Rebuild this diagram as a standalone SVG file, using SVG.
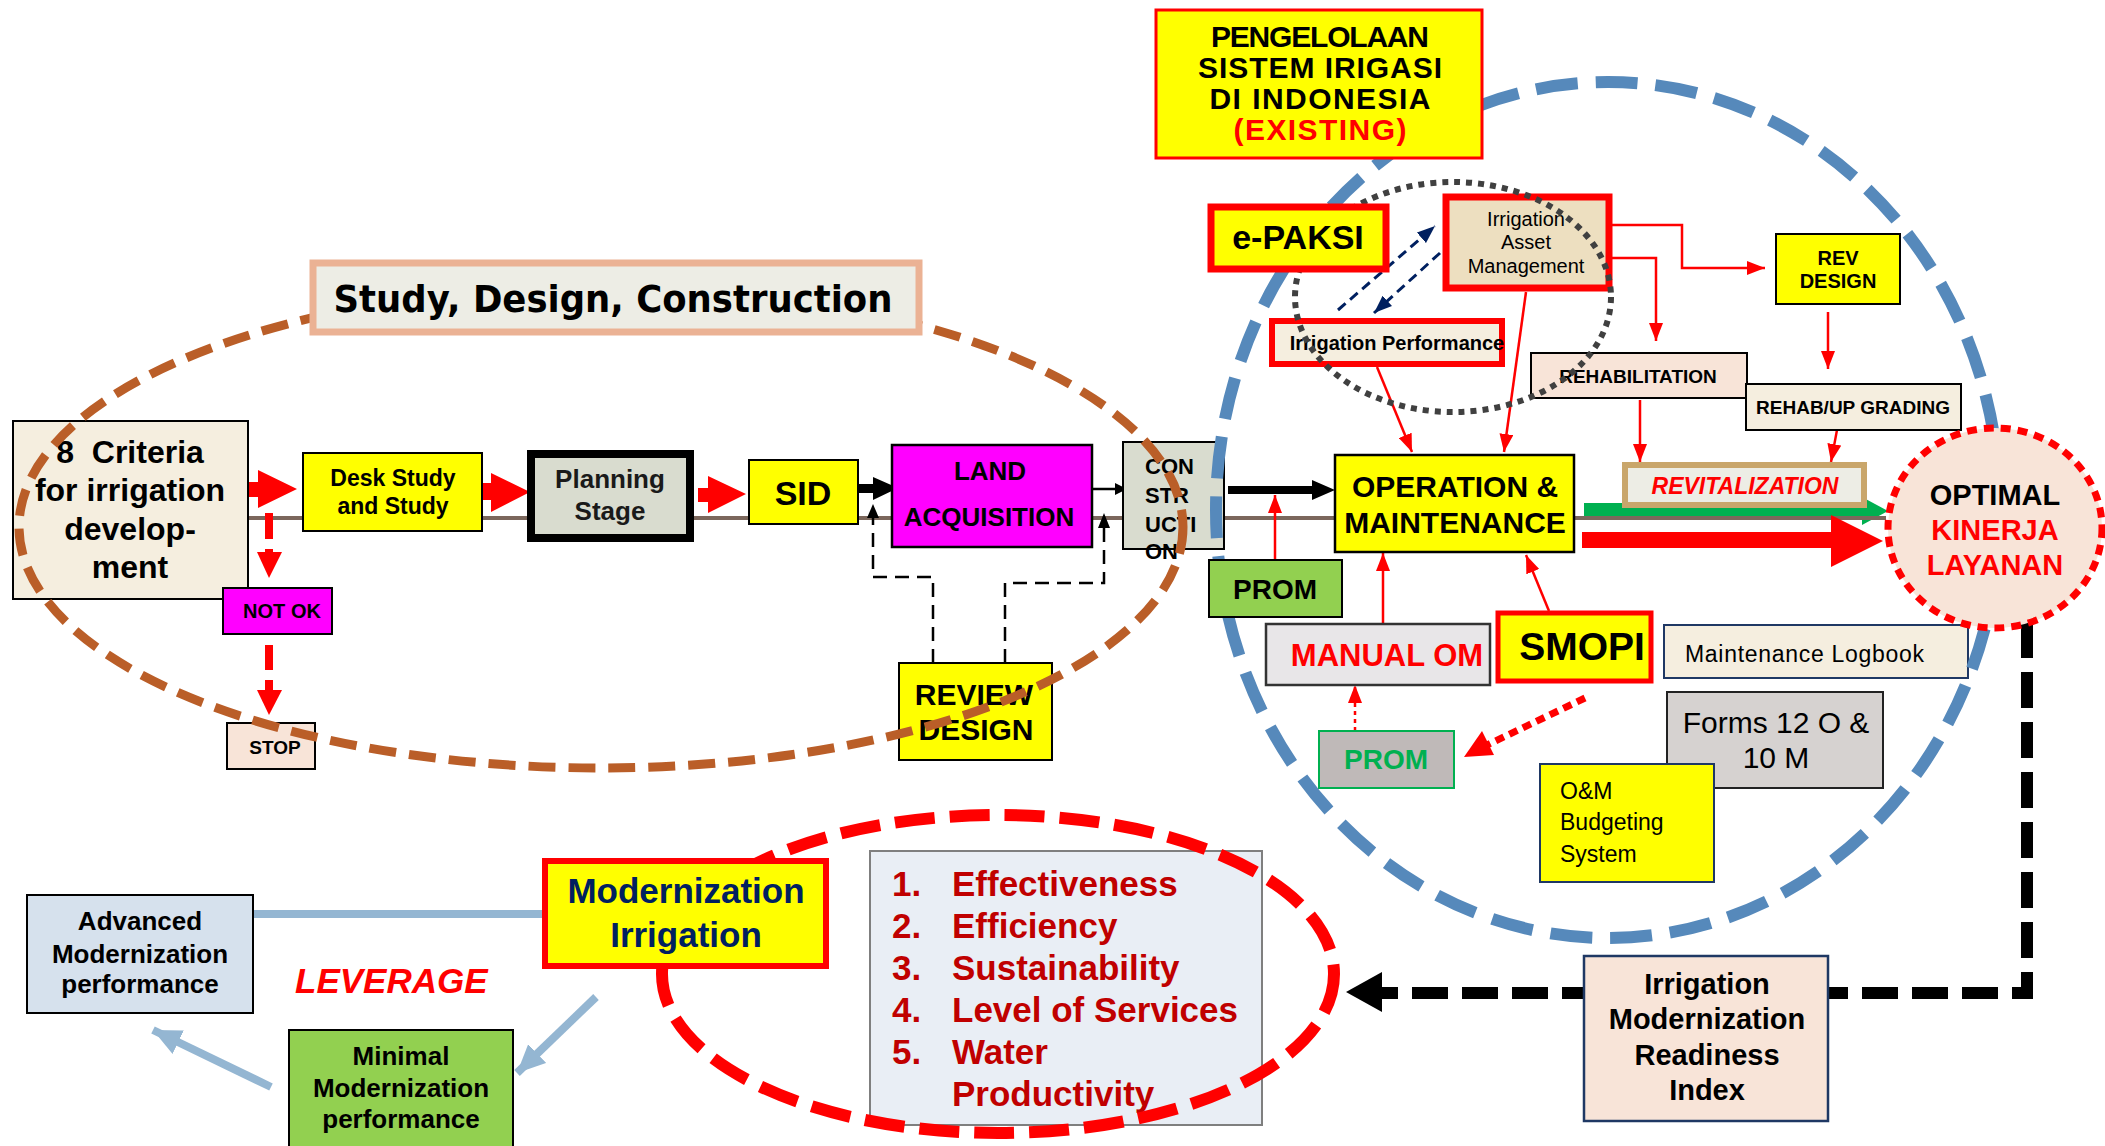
<svg xmlns="http://www.w3.org/2000/svg" width="2105" height="1146" viewBox="0 0 2105 1146">
<style>
text{font-family:"Liberation Sans",Arial,sans-serif}
.b{font-weight:bold}
.c{text-anchor:middle}
.it{font-style:italic}
.bx{stroke:#000;stroke-width:2}
.ya{fill:#FFFF00}
.rl{fill:none;stroke:#FF0000;stroke-width:2.5;marker-end:url(#ar)}
</style>
<defs>
<marker id="ar" viewBox="0 0 18 14" refX="18" refY="7" markerWidth="18" markerHeight="14" markerUnits="userSpaceOnUse" orient="auto" preserveAspectRatio="none"><path d="M0,0 L18,7 L0,14 z" fill="#FF0000"/></marker>
<marker id="an" viewBox="0 0 18 14" refX="18" refY="7" markerWidth="18" markerHeight="14" markerUnits="userSpaceOnUse" orient="auto" preserveAspectRatio="none"><path d="M0,0 L18,7 L0,14 z" fill="#002060"/></marker>
<marker id="ab" viewBox="0 0 12 12" refX="12" refY="6" markerWidth="12" markerHeight="12" markerUnits="userSpaceOnUse" orient="auto" preserveAspectRatio="none"><path d="M0,0 L12,6 L0,12 z" fill="#000"/></marker>
<marker id="alb" viewBox="0 0 28 26" refX="28" refY="13" markerWidth="28" markerHeight="26" markerUnits="userSpaceOnUse" orient="auto" preserveAspectRatio="none"><path d="M0,0 L28,13 L0,26 z" fill="#94B6D2"/></marker>
</defs>

<g id="connectors">
  <polygon points="1584,503 1862,503 1862,497 1888,511 1862,525 1862,519 1584,519" fill="#00B050"/>
  <line x1="248" y1="518" x2="1886" y2="518" stroke="#7B675C" stroke-width="4"/>
  <polygon points="1582,532 1831,532 1831,515 1883,541 1831,567 1831,548 1582,548" fill="#FF0000"/>
  <polygon points="249,482 258,482 258,470 297,489 258,508 258,497 249,497" fill="#FF0000"/>
  <polygon points="482,483 491,483 491,473 530,492 491,512 491,500 482,500" fill="#FF0000"/>
  <polygon points="698,488 708,488 708,476 746,494 708,513 708,502 698,502" fill="#FF0000"/>
  <line x1="269" y1="513" x2="269" y2="556" stroke="#FF0000" stroke-width="8" stroke-dasharray="26 10"/>
  <polygon points="257,552 282,552 269,578" fill="#FF0000"/>
  <line x1="269" y1="645" x2="269" y2="694" stroke="#FF0000" stroke-width="8" stroke-dasharray="25 10"/>
  <polygon points="257,690 282,690 269,715" fill="#FF0000"/>
  <polygon points="859,484 873,484 873,477 898,488 873,500 873,493 859,493" fill="#000"/>
  <line x1="1087" y1="489" x2="1127" y2="489" stroke="#000" stroke-width="2.5" marker-end="url(#ab)"/>
  <polygon points="1228,486 1312,486 1312,480 1335,490 1312,500 1312,494 1228,494" fill="#000"/>
  <path d="M933,663 V577 H873 V518" fill="none" stroke="#000" stroke-width="2.5" stroke-dasharray="14 8"/>
  <polygon points="867,518 879,518 873,504" fill="#000"/>
  <path d="M1005,663 V583 H1104 V528" fill="none" stroke="#000" stroke-width="2.5" stroke-dasharray="14 8"/>
  <polygon points="1098,528 1110,528 1104,513" fill="#000"/>
  <line x1="1338" y1="310" x2="1435" y2="226" stroke="#002060" stroke-width="3" stroke-dasharray="10 6" marker-end="url(#an)"/>
  <line x1="1440" y1="253" x2="1374" y2="313" stroke="#002060" stroke-width="3" stroke-dasharray="10 6" marker-end="url(#an)"/>
  <path class="rl" d="M1601,225 H1682 V268 H1765"/>
  <path class="rl" d="M1601,258 H1656 V341"/>
  <path class="rl" d="M1526,292 L1504,452"/>
  <path class="rl" d="M1377,367 L1412,452"/>
  <path class="rl" d="M1640,400 V462"/>
  <path class="rl" d="M1828,312 V369"/>
  <path class="rl" d="M1837,430 L1831,462"/>
  <path class="rl" d="M1275,560 V495"/>
  <path class="rl" d="M1383,624 V553"/>
  <path class="rl" d="M1549,611 L1526,555"/>
  <path class="rl" d="M1355,731 V685" stroke-dasharray="4 4"/>
  <line x1="1585" y1="698" x2="1485" y2="746" stroke="#FF0000" stroke-width="7" stroke-dasharray="9 6"/>
  <polygon points="1464,757 1482,731 1494,755" fill="#FF0000"/>
  <path d="M2027,622 V993 H1382" fill="none" stroke="#000" stroke-width="12" stroke-dasharray="36 14"/>
  <polygon points="1382,972 1382,1012 1346,992" fill="#000"/>
  <line x1="253" y1="914" x2="545" y2="914" stroke="#94B6D2" stroke-width="8"/>
  <line x1="596" y1="997" x2="517" y2="1073" stroke="#94B6D2" stroke-width="8" marker-end="url(#alb)"/>
  <line x1="271" y1="1087" x2="153" y2="1030" stroke="#94B6D2" stroke-width="8" marker-end="url(#alb)"/>
</g>

<g id="criteria">
  <rect x="13" y="421" width="235" height="178" fill="#F5EEDF" class="bx"/>
  <text class="b c" font-size="32" x="130" y="463" xml:space="preserve">8  Criteria</text>
  <text class="b c" font-size="32" x="130" y="501">for irrigation</text>
  <text class="b c" font-size="32" x="130" y="540">develop-</text>
  <text class="b c" font-size="32" x="130" y="578">ment</text>
</g>
<g id="desk-study">
  <rect x="303" y="453" width="179" height="78" class="bx ya"/>
  <text class="b c" font-size="23" x="393" y="486">Desk Study</text>
  <text class="b c" font-size="23" x="393" y="514">and Study</text>
</g>
<g id="planning">
  <rect x="531" y="454" width="159" height="84" fill="#D9DCCF" stroke="#000" stroke-width="8"/>
  <text class="b c" font-size="26" x="610" y="488" fill="#1a1a1a">Planning</text>
  <text class="b c" font-size="26" x="610" y="520" fill="#1a1a1a">Stage</text>
</g>
<g id="sid">
  <rect x="749" y="460" width="109" height="64" class="bx ya"/>
  <text class="b c" font-size="34" x="803" y="505">SID</text>
</g>
<g id="land">
  <rect x="892" y="445" width="200" height="102" fill="#FF00FF" stroke="#000" stroke-width="2.5"/>
  <text class="b c" font-size="26" x="990" y="480">LAND</text>
  <text class="b c" font-size="26" x="989" y="526">ACQUISITION</text>
</g>
<g id="construction">
  <rect x="1123" y="442" width="101" height="107" fill="#D9DCCF" class="bx"/>
  <text class="b" font-size="22" x="1145" y="474">CON</text>
  <text class="b" font-size="22" x="1145" y="503">STR</text>
  <text class="b" font-size="22" x="1145" y="532">UCTI</text>
  <text class="b" font-size="22" x="1145" y="559">ON</text>
</g>
<g id="review-design">
  <rect x="899" y="663" width="153" height="97" class="bx ya"/>
  <text class="b c" font-size="30" x="974" y="705">REVIEW</text>
  <text class="b c" font-size="30" x="976" y="740">DESIGN</text>
</g>
<g id="not-ok">
  <rect x="223" y="588" width="109" height="46" fill="#FF00FF" class="bx"/>
  <text class="b c" font-size="20" x="282" y="618">NOT OK</text>
</g>
<g id="stop">
  <rect x="227" y="723" width="88" height="46" fill="#F8E4D8" class="bx"/>
  <text class="b c" font-size="19" x="275" y="754">STOP</text>
</g>

<g id="asset-mgmt">
  <rect x="1446" y="197" width="163" height="91" fill="#EDDFC0" stroke="#FF0000" stroke-width="7"/>
  <text class="c" font-size="20" x="1526" y="226">Irrigation</text>
  <text class="c" font-size="20" x="1526" y="249">Asset</text>
  <text class="c" font-size="20" x="1526" y="273">Management</text>
</g>
<g id="irr-performance">
  <rect x="1272" y="321" width="230" height="43" fill="#F5EEDF" stroke="#FF0000" stroke-width="6"/>
  <text class="b c" font-size="20" x="1397" y="350">Irrigation Performance</text>
</g>
<g id="rev-design">
  <rect x="1776" y="234" width="124" height="70" class="bx ya"/>
  <text class="b c" font-size="20" x="1838" y="265">REV</text>
  <text class="b c" font-size="20" x="1838" y="288">DESIGN</text>
</g>
<g id="rehabilitation">
  <rect x="1531" y="353" width="216" height="45" fill="#F8E4D8" class="bx"/>
  <text class="b c" font-size="19" x="1638" y="383">REHABILITATION</text>
</g>
<g id="rehab-upgrading">
  <rect x="1746" y="384" width="215" height="46" fill="#F5EEDF" class="bx"/>
  <text class="b c" font-size="19" x="1853" y="414">REHAB/UP GRADING</text>
</g>
<g id="om">
  <rect x="1335" y="455" width="239" height="97" class="ya" stroke="#000" stroke-width="2.5"/>
  <text class="b c" font-size="30" x="1455" y="497">OPERATION &amp;</text>
  <text class="b c" font-size="30" x="1455" y="533">MAINTENANCE</text>
</g>
<g id="revitalization">
  <rect x="1625" y="465" width="239" height="40" fill="#EDEDE5" stroke="#C9A66B" stroke-width="6"/>
  <text class="b c it" font-size="23" x="1745" y="494" fill="#FF0000">REVITALIZATION</text>
</g>
<g id="manual-om">
  <rect x="1266" y="624" width="224" height="61" fill="#E8E6E8" stroke="#333" stroke-width="2.5"/>
  <text class="b c" font-size="31" x="1387" y="666" fill="#FF0000">MANUAL OM</text>
</g>
<g id="smopi">
  <rect x="1498" y="613" width="153" height="68" class="ya" stroke="#FF0000" stroke-width="5"/>
  <text class="b c" font-size="39" x="1582" y="660">SMOPI</text>
</g>
<g id="logbook">
  <rect x="1664" y="625" width="304" height="53" fill="#F5EEDF" stroke="#1F3864" stroke-width="2"/>
  <text font-size="23" x="1685" y="662" textLength="239">Maintenance Logbook</text>
</g>
<g id="forms">
  <rect x="1667" y="692" width="216" height="96" fill="#D6D2D0" stroke="#222" stroke-width="2"/>
  <text class="c" font-size="30" x="1776" y="733">Forms 12 O &amp;</text>
  <text class="c" font-size="30" x="1776" y="768">10 M</text>
</g>
<g id="budgeting">
  <rect x="1540" y="764" width="174" height="118" class="ya" stroke="#1F3864" stroke-width="2"/>
  <text font-size="23" x="1560" y="799">O&amp;M</text>
  <text font-size="23" x="1560" y="830">Budgeting</text>
  <text font-size="23" x="1560" y="862">System</text>
</g>
<g id="prom-gray">
  <rect x="1319" y="731" width="135" height="57" fill="#BFB9B8" stroke="#00B050" stroke-width="2"/>
  <text class="b c" font-size="28" x="1386" y="769" fill="#00B050">PROM</text>
</g>
<g id="imri">
  <rect x="1584" y="956" width="244" height="165" fill="#F8E4D8" stroke="#1F3864" stroke-width="2.5"/>
  <text class="b c" font-size="29" x="1707" y="994">Irrigation</text>
  <text class="b c" font-size="29" x="1707" y="1029">Modernization</text>
  <text class="b c" font-size="29" x="1707" y="1065">Readiness</text>
  <text class="b c" font-size="29" x="1707" y="1100">Index</text>
</g>
<g id="goals">
  <rect x="870" y="851" width="392" height="274" fill="#E9EEF5" stroke="#7F7F7F" stroke-width="2"/>
  <g class="b" font-size="35" fill="#C00000">
    <text x="892" y="896">1.</text><text x="952" y="896">Effectiveness</text>
    <text x="892" y="938">2.</text><text x="952" y="938">Efficiency</text>
    <text x="892" y="980">3.</text><text x="952" y="980">Sustainability</text>
    <text x="892" y="1022">4.</text><text x="952" y="1022">Level of Services</text>
    <text x="892" y="1064">5.</text><text x="952" y="1064">Water</text>
    <text x="952" y="1106">Productivity</text>
  </g>
</g>
<g id="advanced">
  <rect x="27" y="895" width="226" height="118" fill="#D6E1ED" class="bx"/>
  <text class="b c" font-size="26" x="140" y="930">Advanced</text>
  <text class="b c" font-size="26" x="140" y="963">Modernization</text>
  <text class="b c" font-size="26" x="140" y="993">performance</text>
</g>
<g id="minimal">
  <rect x="289" y="1030" width="224" height="125" fill="#92D050" class="bx"/>
  <text class="b c" font-size="26" x="401" y="1065">Minimal</text>
  <text class="b c" font-size="26" x="401" y="1097">Modernization</text>
  <text class="b c" font-size="26" x="401" y="1128">performance</text>
</g>
<text id="leverage" class="b it" font-size="35" x="295" y="993" fill="#FF0000">LEVERAGE</text>

<g id="outlines">
  <ellipse cx="601" cy="527" rx="582" ry="241" fill="none" stroke="#BA5E28" stroke-width="9" stroke-dasharray="27 13"/>
  <ellipse cx="1608" cy="510" rx="392" ry="428" fill="none" stroke="#5689BB" stroke-width="12" stroke-dasharray="42 18"/>
  <ellipse cx="1453" cy="297" rx="158" ry="115" fill="none" stroke="#404040" stroke-width="6" stroke-dasharray="6 6"/>
  <ellipse cx="998" cy="974" rx="336" ry="159" fill="none" stroke="#FF0000" stroke-width="12" stroke-dasharray="40 15"/>
</g>

<g id="study-title">
  <rect x="313" y="263" width="606" height="69" fill="#EDEDE5" stroke="#EBB294" stroke-width="7"/>
  <text x="613" y="312" font-size="38" textLength="559" lengthAdjust="spacingAndGlyphs" class="c" style="font-family:'DejaVu Sans',sans-serif;font-weight:bold">Study, Design, Construction</text>
</g>
<g id="pengelolaan">
  <rect x="1156" y="10" width="326" height="148" class="ya" stroke="#FF0000" stroke-width="3"/>
  <text class="b c" font-size="30" x="1320" y="47" textLength="218">PENGELOLAAN</text>
  <text class="b c" font-size="30" x="1320" y="78" textLength="244">SISTEM IRIGASI</text>
  <text class="b c" font-size="30" x="1320" y="109" textLength="221">DI INDONESIA</text>
  <text class="b c" font-size="30" x="1320" y="140" textLength="173" fill="#FF0000">(EXISTING)</text>
</g>
<g id="epaksi">
  <rect x="1211" y="207" width="175" height="62" class="ya" stroke="#FF0000" stroke-width="7"/>
  <text class="b c" font-size="34" x="1298" y="249">e-PAKSI</text>
</g>
<g id="prom-green">
  <rect x="1209" y="560" width="133" height="57" fill="#92D050" class="bx"/>
  <text class="b c" font-size="28" x="1275" y="599">PROM</text>
</g>
<g id="optimal">
  <ellipse cx="1995" cy="528" rx="107" ry="100" fill="#F8E4D8" stroke="#FF0000" stroke-width="7" stroke-dasharray="10 7"/>
  <text class="b c" font-size="29" x="1995" y="505">OPTIMAL</text>
  <text class="b c" font-size="29" x="1995" y="540" fill="#FF0000">KINERJA</text>
  <text class="b c" font-size="29" x="1995" y="575" fill="#FF0000">LAYANAN</text>
</g>
<g id="modernization">
  <rect x="545" y="861" width="281" height="105" class="ya" stroke="#FF0000" stroke-width="6"/>
  <text class="b c" font-size="35" x="686" y="903" fill="#002060">Modernization</text>
  <text class="b c" font-size="35" x="686" y="947" fill="#002060">Irrigation</text>
</g>
</svg>
